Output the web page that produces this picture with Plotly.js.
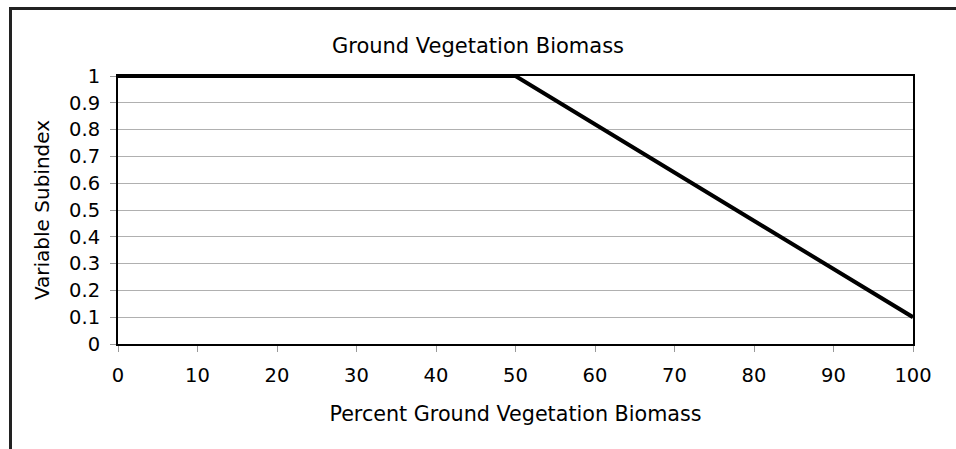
<!DOCTYPE html>
<html>
<head>
<meta charset="utf-8">
<script src="https://cdn.plot.ly/plotly-3.0.1.min.js"></script>
<style>
  html, body { margin: 0; padding: 0; background: #fff; }
  #wrap { position: relative; width: 956px; height: 449px; overflow: hidden; }
  #frame { position: absolute; left: 9px; top: 7px; width: 960px; height: 460px;
           border-top: 3px solid #222; border-left: 3px solid #222; box-sizing: border-box; pointer-events: none; }
  #chart { position: absolute; left: 0; top: 0; width: 956px; height: 449px; }
</style>
</head>
<body>
<div id="wrap">
  <div id="chart"></div>
  <div id="frame"></div>
</div>
<script>
const biomassPct = [0, 50, 100];
const subindex = [1, 1, 0.1];
const xTicks = [0, 10, 20, 30, 40, 50, 60, 70, 80, 90, 100];
const yTicks = [0, 0.1, 0.2, 0.3, 0.4, 0.5, 0.6, 0.7, 0.8, 0.9, 1];
const yTickText = ['0', '0.1', '0.2', '0.3', '0.4', '0.5', '0.6', '0.7', '0.8', '0.9', '1'];

const FONT = 'DejaVu Sans, Liberation Sans, Arial, sans-serif';

const trace = {
  x: biomassPct,
  y: subindex,
  type: 'scatter',
  mode: 'lines',
  line: { color: '#000', width: 4 },
  hoverinfo: 'x+y'
};

const layout = {
  width: 956,
  height: 449,
  margin: { l: 118, r: 43, t: 76, b: 105 },
  paper_bgcolor: '#fff',
  plot_bgcolor: '#fff',
  showlegend: false,
  font: { family: FONT, color: '#000', size: 19 },
  title: {
    text: 'Ground Vegetation Biomass',
    font: { family: FONT, size: 21, color: '#000' },
    x: 0.5, xref: 'container', xanchor: 'center',
    y: 0.898, yref: 'container', yanchor: 'middle'
  },
  xaxis: {
    range: [0, 100],
    tickmode: 'array',
    tickvals: xTicks,
    ticktext: xTicks.map(String),
    ticks: 'outside',
    ticklen: 6,
    tickwidth: 1,
    tickcolor: '#999',
    ticklabelstandoff: 7,
    showgrid: false,
    zeroline: false,
    showline: true,
    linecolor: '#000',
    linewidth: 2,
    mirror: true,
    tickfont: { family: FONT, size: 19.5, color: '#000' },
    title: {
      text: 'Percent Ground Vegetation Biomass',
      font: { family: FONT, size: 20.7, color: '#000' },
      standoff: 20
    },
    fixedrange: true
  },
  yaxis: {
    range: [0, 1],
    tickmode: 'array',
    tickvals: yTicks,
    ticktext: yTickText,
    ticks: 'outside',
    ticklen: 6,
    tickwidth: 1,
    tickcolor: '#999',
    ticklabelstandoff: 6,
    showgrid: true,
    gridcolor: '#b0b0b0',
    gridwidth: 1,
    zeroline: false,
    showline: true,
    linecolor: '#000',
    linewidth: 2,
    mirror: true,
    tickfont: { family: FONT, size: 19.5, color: '#000' },
    title: {
      text: 'Variable Subindex',
      font: { family: FONT, size: 20, color: '#000' },
      standoff: 14
    },
    fixedrange: true
  }
};

Plotly.newPlot('chart', [trace], layout, { displayModeBar: false, staticPlot: false });
</script>
</body>
</html>
